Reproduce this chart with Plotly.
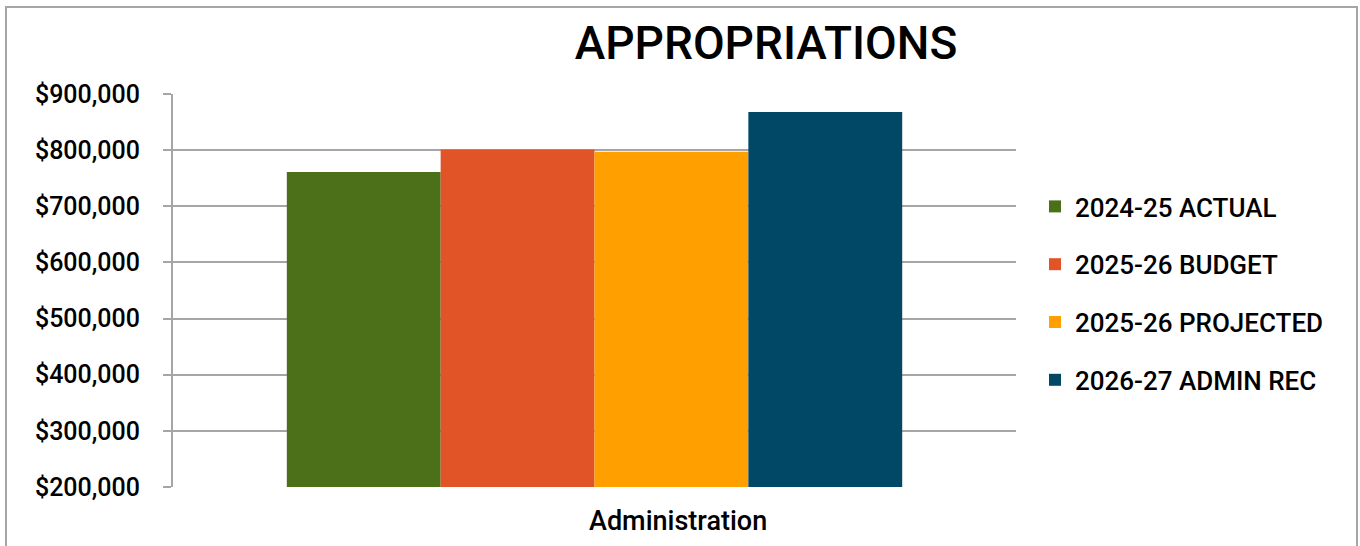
import plotly.graph_objects as go

categories = ["Administration"]
series_names = ["2024-25 ACTUAL", "2025-26 BUDGET", "2025-26 PROJECTED", "2026-27 ADMIN REC"]
series_values = [[761000], [801000], [797000], [868000]]
colors = ["#4B7019", "#E05427", "#FFA000", "#014866"]
y_ticks = [200000, 300000, 400000, 500000, 600000, 700000, 800000, 900000]
title_text = "APPROPRIATIONS"

FONT = "Roboto"
OFF = 0  # page body margin removed via post_script

fig = go.Figure()
for name, vals, col in zip(series_names, series_values, colors):
    fig.add_trace(go.Bar(
        x=categories, y=vals, name=name, marker=dict(color=col, line=dict(width=0)),
        legendgroup=name,
    ))

W, H = 1360, 546
L, R, T, B = 173 - OFF, 1360 - (1016 - OFF), 94 - OFF, 546 - (487 - OFF)
pw, ph = W - L - R, H - T - B

def px_x(x):
    return (x - OFF - L) / pw

def px_y(y):
    return (H - B - (y - OFF)) / ph

fig.update_layout(
    width=W, height=H,
    margin=dict(l=L, r=R, t=T, b=B),
    paper_bgcolor="white", plot_bgcolor="white",
    barmode="group", bargap=0.27, bargroupgap=0,
    font=dict(family=FONT, size=20, color="black"),
    title=dict(text=title_text, x=px_x(766), xref="paper", xanchor="center",
               y=1 - (43 - OFF) / H, yanchor="middle",
               font=dict(family=FONT, size=46, color="black", weight=500)),
    showlegend=True,
    legend=dict(x=px_x(1035), xanchor="left", y=px_y(183), yanchor="top",
                font=dict(family=FONT, size=26, color="black", weight=500),
                tracegroupgap=21, traceorder="grouped",
                bgcolor="rgba(0,0,0,0)"),
    yaxis=dict(range=[200000, 900000], tickvals=y_ticks, tickformat="$,.0f",
               showgrid=True, gridcolor="#A6A6A6", gridwidth=2,
               showline=True, linecolor="#A6A6A6", linewidth=2,
               ticks="outside", ticklen=8, tickcolor="#A6A6A6", tickwidth=2,
               ticklabelstandoff=18,
               tickfont=dict(family=FONT, size=25, color="black", weight=500),
               zeroline=False, fixedrange=True),
    xaxis=dict(showticklabels=False, showline=False, showgrid=False,
               zeroline=False, fixedrange=True),
    shapes=[dict(type="rect", xref="paper", yref="paper",
                 x0=px_x(6), x1=px_x(1357), y0=px_y(570), y1=px_y(7),
                 line=dict(color="#A6A6A6", width=2), layer="below")],
    annotations=[dict(text=categories[0], xref="paper", yref="paper",
                      x=px_x(678), y=px_y(521), xanchor="center", yanchor="middle",
                      showarrow=False, font=dict(family=FONT, size=27, color="black", weight=500))],
)

fig.write_html("out.html", config={"displayModeBar": False},
               post_script="document.body.style.margin='0';")
